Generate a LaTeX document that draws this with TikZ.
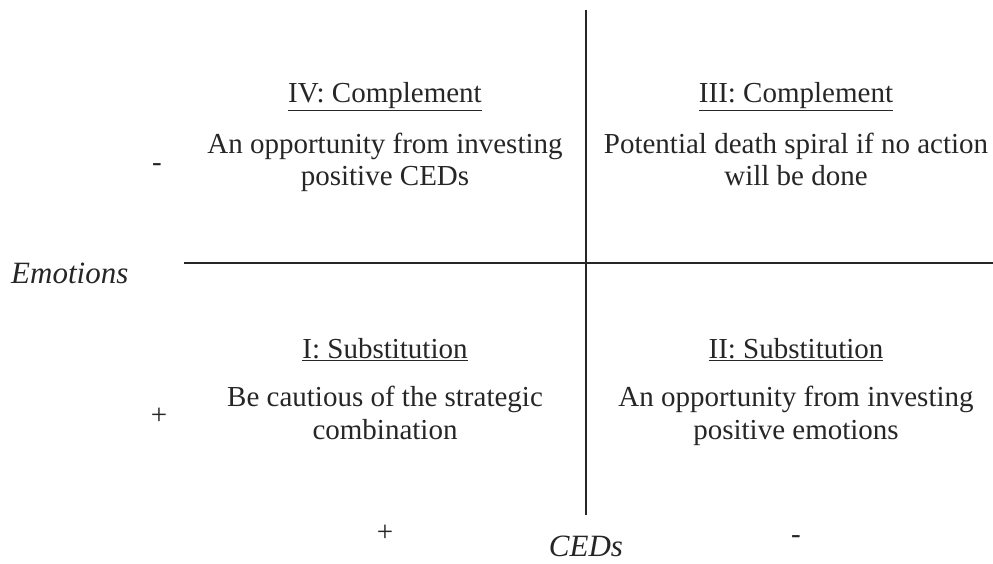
\documentclass[tikz,border=0pt]{standalone}
\usepackage{fontspec}
\setmainfont{Liberation Serif}
\begin{document}
\begin{tikzpicture}[x=1pt,y=-1pt,
  txt/.style={inner sep=0pt,anchor=base,font=\fontsize{29}{32}\selectfont,text=black!85},
  axislbl/.style={inner sep=0pt,anchor=base,font=\fontsize{31}{34}\selectfont\itshape,text=black!85},
  axis/.style={line width=1.8pt,draw=black!85}]
\useasboundingbox (0,0) rectangle (993,564);
% axes
\coordinate (vtop) at (586,10);
\coordinate (vbot) at (586,515);
\coordinate (hleft) at (184,263);
\coordinate (hright) at (993,263);
\draw[axis] (vtop) -- (vbot);
\draw[axis] (hleft) -- (hright);
% quadrant IV
\node[txt] (t4) at (385,103) {\underline{IV: Complement}};
\node[txt] (b4a) at (385,154) {An opportunity from investing};
\node[txt] (b4b) at (385,186) {positive CEDs};
% quadrant III
\node[txt] (t3) at (796,103) {\underline{III: Complement}};
\node[txt] (b3a) at (796,154) {Potential death spiral if no action};
\node[txt] (b3b) at (796,186) {will be done};
% quadrant I
\node[txt] (t1) at (385,358) {\underline{I: Substitution}};
\node[txt] (b1a) at (385,406) {Be cautious of the strategic};
\node[txt] (b1b) at (385,439) {combination};
% quadrant II
\node[txt] (t2) at (796,358) {\underline{II: Substitution}};
\node[txt] (b2a) at (796,406) {An opportunity from investing};
\node[txt] (b2b) at (796,439) {positive emotions};
% signs
\node[txt] (ym) at (157,172) {-};
\node[txt] (yp) at (159,424) {+};
\node[txt] (xp) at (385,541) {+};
\node[txt] (xm) at (796,543) {-};
% axis labels
\node[axislbl,anchor=base west] (emo) at (11,283) {Emotions};
\node[axislbl] (ced) at (586,556) {CEDs};
\end{tikzpicture}
\end{document}
